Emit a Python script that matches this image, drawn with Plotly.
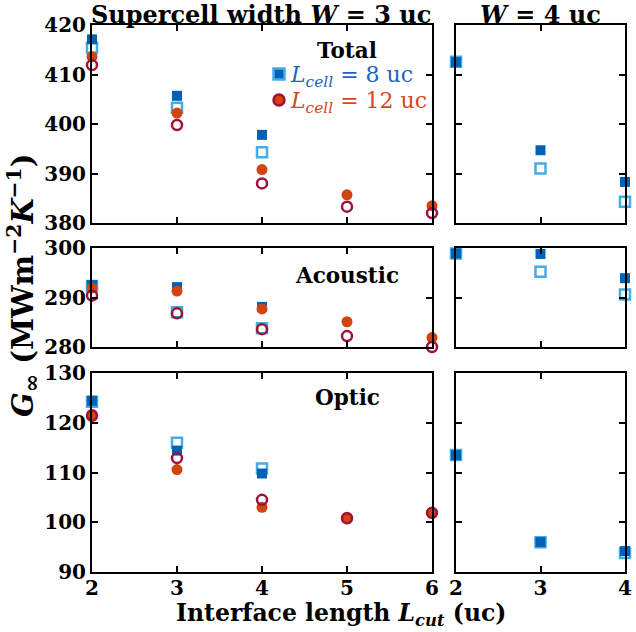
import plotly.graph_objects as go

# ---------------- data ----------------
x_left_l8 = [2, 3, 4]
x_left_l12 = [2, 3, 4, 5, 6]
x_right = [2, 3, 4]

# Total
tot_l8_filled = [417.1, 405.7, 397.8]
tot_l8_open = [415.4, 403.3, 394.3]
tot_l12_filled = [413.6, 402.2, 390.8, 385.7, 383.5]
tot_l12_open = [411.9, 399.8, 388.0, 383.3, 382.0]
tot_w4_filled = [412.5, 394.7, 388.3]
tot_w4_open = [412.6, 391.0, 384.3]

# Acoustic
ac_l8_filled = [292.5, 292.1, 288.1]
ac_l8_open = [292.3, 287.0, 283.8]
ac_l12_filled = [291.9, 291.3, 287.7, 285.1, 281.9]
ac_l12_open = [290.4, 286.8, 283.6, 282.2, 280.0]
ac_w4_filled = [298.9, 298.8, 293.9]
ac_w4_open = [298.9, 295.2, 290.6]

# Optic
op_l8_filled = [124.4, 114.4, 109.8]
op_l8_open = [124.2, 116.0, 110.8]
op_l12_filled = [121.7, 110.6, 103.0, 101.0, 101.8]
op_l12_open = [121.4, 112.9, 104.5, 100.8, 101.9]
op_w4_filled = [113.5, 96.0, 94.2]
op_w4_open = [113.5, 96.0, 93.8]

y_ticks_total = [380, 390, 400, 410, 420]
y_ticks_ac = [280, 290, 300]
y_ticks_op = [90, 100, 110, 120, 130]
x_ticks_left = [2, 3, 4, 5, 6]
x_ticks_right = [2, 3, 4]
panel_names = ["Total", "Acoustic", "Optic"]
legend_labels = ["<i>L</i><sub><i>cell</i></sub> = 8 uc", "<i>L</i><sub><i>cell</i></sub> = 12 uc"]

# ---------------- styling ----------------
W, H = 636, 632
DARK_BLUE = "#0062b4"
LIGHT_BLUE = "#45ade4"
ORANGE = "#d2440f"
DARK_RED = "#a0103a"
LEG_BLUE = "#2163c0"
LEG_RED = "#d4481c"
FONT = "DejaVu Serif"

def px_x(p):
    return p / W

def px_y(p):
    return 1 - p / H

xdom_left = [px_x(92), px_x(432)]
xdom_right = [px_x(456), px_x(625)]
ydoms = [
    [px_y(223), px_y(25)],
    [px_y(347), px_y(248)],
    [px_y(572), px_y(373)],
]
yranges = [[380, 420], [280, 300], [90, 130]]
yticks = [y_ticks_total, y_ticks_ac, y_ticks_op]

fig = go.Figure()

rows = [
    (tot_l8_open, tot_l8_filled, tot_l12_filled, tot_l12_open, tot_w4_open, tot_w4_filled),
    (ac_l8_open, ac_l8_filled, ac_l12_filled, ac_l12_open, ac_w4_open, ac_w4_filled),
    (op_l8_open, op_l8_filled, op_l12_filled, op_l12_open, op_w4_open, op_w4_filled),
]

axis_common = dict(
    showline=True, linewidth=2, linecolor="black", mirror="ticks",
    ticks="inside", ticklen=6, tickwidth=2, tickcolor="black",
    showgrid=False, zeroline=False, automargin=False,
    tickfont=dict(family=FONT, size=20, color="black", weight="bold"),
)

MS = 10
for r, (l8o, l8f, l12f, l12o, w4o, w4f) in enumerate(rows):
    xl = "x" if r == 0 else f"x{2*r+1}"
    yl = "y" if r == 0 else f"y{2*r+1}"
    xr = f"x{2*r+2}"
    yr = f"y{2*r+2}"
    common = dict(mode="markers", showlegend=False, cliponaxis=False, hoverinfo="skip")
    fig.add_trace(go.Scatter(x=x_left_l8, y=l8o, xaxis=xl, yaxis=yl,
                             marker=dict(symbol="square-open", size=MS, color=LIGHT_BLUE, line=dict(width=2.5, color=LIGHT_BLUE)), **common))
    fig.add_trace(go.Scatter(x=x_left_l8, y=l8f, xaxis=xl, yaxis=yl,
                             marker=dict(symbol="square", size=MS, color=DARK_BLUE, line=dict(width=0)), **common))
    fig.add_trace(go.Scatter(x=x_left_l12, y=l12f, xaxis=xl, yaxis=yl,
                             marker=dict(symbol="circle", size=MS + 1, color=ORANGE, line=dict(width=0)), **common))
    fig.add_trace(go.Scatter(x=x_left_l12, y=l12o, xaxis=xl, yaxis=yl,
                             marker=dict(symbol="circle-open", size=MS, color=DARK_RED, line=dict(width=2.5, color=DARK_RED)), **common))
    fig.add_trace(go.Scatter(x=x_right, y=w4o, xaxis=xr, yaxis=yr,
                             marker=dict(symbol="square-open", size=MS, color=LIGHT_BLUE, line=dict(width=2.5, color=LIGHT_BLUE)), **common))
    fig.add_trace(go.Scatter(x=x_right, y=w4f, xaxis=xr, yaxis=yr,
                             marker=dict(symbol="square", size=MS, color=DARK_BLUE, line=dict(width=0)), **common))

    last = (r == 2)
    xkey_l = "xaxis" if r == 0 else f"xaxis{2*r+1}"
    ykey_l = "yaxis" if r == 0 else f"yaxis{2*r+1}"
    xkey_r = f"xaxis{2*r+2}"
    ykey_r = f"yaxis{2*r+2}"
    xextra = dict(ticklabelstandoff=-3) if last else {}
    fig.layout[xkey_l] = dict(axis_common, domain=xdom_left, range=[2, 6], tickvals=x_ticks_left,
                              showticklabels=last, anchor=yl, **xextra)
    fig.layout[ykey_l] = dict(axis_common, domain=ydoms[r], range=yranges[r], tickvals=yticks[r],
                              showticklabels=True, anchor=xl)
    fig.layout[xkey_r] = dict(axis_common, domain=xdom_right, range=[2, 4], tickvals=x_ticks_right,
                              showticklabels=last, anchor=yr, **xextra)
    fig.layout[ykey_r] = dict(axis_common, domain=ydoms[r], range=yranges[r], tickvals=yticks[r],
                              showticklabels=False, anchor=xr)

# ---------------- legend (icons as shapes, labels as text) ----------------
shapes = [
    dict(type="rect", xref="paper", yref="paper",
         x0=px_x(273.5), x1=px_x(284.5), y0=px_y(79.5), y1=px_y(68.5),
         fillcolor=DARK_BLUE, line=dict(color=LIGHT_BLUE, width=2.5)),
    dict(type="circle", xref="paper", yref="paper",
         x0=px_x(273.5), x1=px_x(284.5), y0=px_y(105.5), y1=px_y(94.5),
         fillcolor=ORANGE, line=dict(color=DARK_RED, width=2.5)),
]

annotations = [
    dict(text=legend_labels[0], x=px_x(288), y=px_y(77), xref="paper", yref="paper", showarrow=False,
         font=dict(family=FONT, size=22, color=LEG_BLUE), xanchor="left", yanchor="middle"),
    dict(text=legend_labels[1], x=px_x(288), y=px_y(103), xref="paper", yref="paper", showarrow=False,
         font=dict(family=FONT, size=22, color=LEG_RED), xanchor="left", yanchor="middle"),
    dict(text="Supercell width <i>W</i> = 3 uc", x=px_x(261), y=px_y(14), xref="paper", yref="paper",
         showarrow=False, font=dict(family=FONT, size=24, color="black", weight="bold"), xanchor="center", yanchor="middle"),
    dict(text="<i>W</i> = 4 uc", x=px_x(540), y=px_y(14), xref="paper", yref="paper",
         showarrow=False, font=dict(family=FONT, size=24, color="black", weight="bold"), xanchor="center", yanchor="middle"),
    dict(text="<i>G</i><sub><span style=\"font-size:22px\">∞</span></sub> (MWm<sup>−2</sup><i>K</i><sup>−1</sup>)",
         x=px_x(23), y=px_y(286), xref="paper", yref="paper",
         showarrow=False, textangle=-90, font=dict(family=FONT, size=29, color="black", weight="bold"),
         xanchor="center", yanchor="middle"),
    dict(text="Interface length <i>L</i><sub><i>cut</i></sub> (uc)", x=px_x(341), y=px_y(614), xref="paper", yref="paper",
         showarrow=False, font=dict(family=FONT, size=23.5, color="black", weight="bold"), xanchor="center", yanchor="middle"),
]
panel_y = [51, 275, 397]
for name, py in zip(panel_names, panel_y):
    annotations.append(dict(text=name, x=px_x(347), y=px_y(py), xref="paper", yref="paper", showarrow=False,
                            font=dict(family=FONT, size=21.5, color="black", weight="bold"),
                            xanchor="center", yanchor="middle"))

fig.update_layout(
    width=W, height=H,
    margin=dict(l=0, r=0, t=0, b=0),
    paper_bgcolor="white", plot_bgcolor="white",
    annotations=annotations,
    shapes=shapes,
    showlegend=False,
)

fig.write_html("out.html")
